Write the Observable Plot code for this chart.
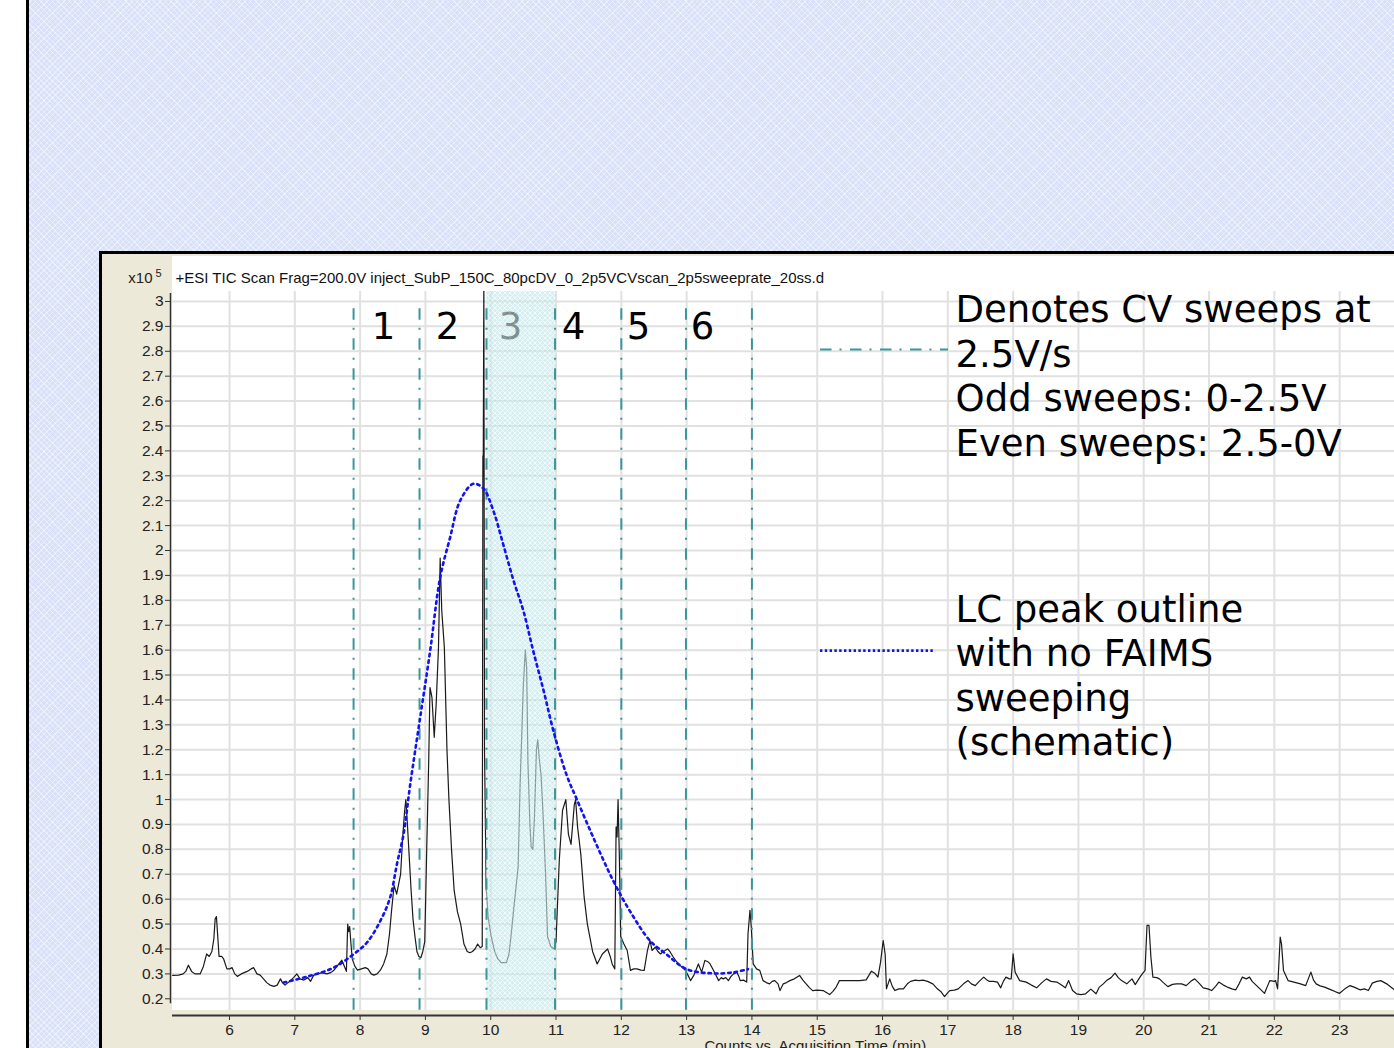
<!DOCTYPE html>
<html><head><meta charset="utf-8">
<script src="https://cdn.jsdelivr.net/npm/d3@7"></script>
<script src="https://cdn.jsdelivr.net/npm/@observablehq/plot@0.6"></script>
<style>
html,body{margin:0;padding:0;width:1394px;height:1048px;overflow:hidden;background:#fff;}
#bg{position:absolute;left:29px;top:0;right:0;bottom:0;background-color:#d9e1f8;
 background-image:repeating-linear-gradient(45deg,rgba(255,255,255,0.4) 0 1px,transparent 1px 4px),repeating-linear-gradient(-45deg,rgba(255,255,255,0.4) 0 1px,transparent 1px 4px);}
#edge{position:absolute;left:26px;top:0;width:3px;height:1048px;background:#000;}
#panel{position:absolute;left:99px;top:251px;width:1400px;height:900px;background:#ece9d8;border-left:3px solid #000;border-top:3px solid #000;box-sizing:border-box;}
#white{position:absolute;left:172px;top:256px;width:1300px;height:754px;background:#fff;}
#chart{position:absolute;left:100px;top:253px;}
</style></head>
<body>
<div id="bg"></div><div id="edge"></div><div id="panel"></div><div id="white"></div>
<div id="chart"></div>
<script>
// ---------- data ----------
const xTicks = [6,7,8,9,10,11,12,13,14,15,16,17,18,19,20,21,22,23];
const yTicks = [0.2,0.3,0.4,0.5,0.6,0.7,0.8,0.9,1,1.1,1.2,1.3,1.4,1.5,1.6,1.7,1.8,1.9,2,2.1,2.2,2.3,2.4,2.5,2.6,2.7,2.8,2.9,3];
const yTickLabels = ["0.2","0.3","0.4","0.5","0.6","0.7","0.8","0.9","1","1.1","1.2","1.3","1.4","1.5","1.6","1.7","1.8","1.9","2","2.1","2.2","2.3","2.4","2.5","2.6","2.7","2.8","2.9","3"];

// TIC trace (acquisition time, min ; counts x10^5)
const ticTime = [5.13,5.22,5.29,5.33,5.37,5.42,5.47,5.55,5.60,5.65,5.69,5.73,5.76,5.78,5.80,5.82,5.84,5.88,5.91,5.96,6.00,6.04,6.08,6.12,6.18,6.27,6.33,6.37,6.42,6.47,6.52,6.57,6.62,6.68,6.73,6.78,6.81,6.85,6.92,6.98,7.03,7.08,7.14,7.20,7.24,7.29,7.35,7.42,7.49,7.55,7.60,7.66,7.72,7.76,7.79,7.81,7.825,7.84,7.86,7.88,7.92,7.96,8.02,8.08,8.12,8.17,8.21,8.26,8.31,8.36,8.41,8.45,8.48,8.52,8.56,8.59,8.62,8.65,8.68,8.70,8.72,8.75,8.78,8.81,8.84,8.87,8.90,8.93,8.96,8.99,9.02,9.05,9.07,9.10,9.135,9.165,9.20,9.226,9.25,9.29,9.33,9.36,9.40,9.44,9.49,9.54,9.59,9.64,9.68,9.72,9.76,9.80,9.84,9.87,9.88,9.885,9.895,9.905,9.93,9.96,10.00,10.06,10.11,10.16,10.24,10.28,10.31,10.36,10.42,10.45,10.48,10.50,10.53,10.55,10.57,10.60,10.62,10.645,10.67,10.70,10.72,10.745,10.77,10.80,10.84,10.87,10.92,10.97,11.00,11.05,11.10,11.15,11.19,11.23,11.28,11.30,11.33,11.38,11.43,11.48,11.56,11.63,11.67,11.71,11.75,11.79,11.83,11.86,11.90,11.92,11.935,11.95,11.97,11.99,12.04,12.09,12.14,12.19,12.24,12.30,12.35,12.40,12.44,12.47,12.52,12.56,12.60,12.64,12.67,12.71,12.75,12.79,12.83,12.90,12.98,13.03,13.06,13.11,13.15,13.18,13.23,13.28,13.32,13.36,13.40,13.44,13.49,13.53,13.56,13.60,13.64,13.68,13.72,13.77,13.80,13.82,13.87,13.92,13.94,13.97,13.99,14.02,14.07,14.12,14.17,14.22,14.27,14.31,14.35,14.40,14.43,14.48,14.53,14.58,14.65,14.73,14.78,14.83,14.88,14.93,15.00,15.09,15.14,15.19,15.24,15.29,15.34,15.44,15.54,15.65,15.75,15.83,15.88,15.93,15.97,16.01,16.04,16.06,16.11,16.15,16.19,16.25,16.32,16.38,16.43,16.50,16.56,16.62,16.69,16.77,16.84,16.90,16.95,17.00,17.03,17.10,17.16,17.24,17.31,17.36,17.42,17.48,17.55,17.60,17.63,17.70,17.76,17.81,17.85,17.89,17.94,17.97,18.00,18.03,18.10,18.15,18.20,18.28,18.36,18.44,18.51,18.58,18.67,18.74,18.80,18.85,18.91,18.97,19.04,19.11,19.19,19.27,19.32,19.38,19.43,19.50,19.56,19.61,19.66,19.74,19.82,19.87,19.95,20.02,20.05,20.08,20.11,20.14,20.20,20.24,20.30,20.37,20.44,20.50,20.58,20.65,20.72,20.78,20.85,20.91,20.98,21.04,21.10,21.15,21.22,21.28,21.35,21.41,21.46,21.51,21.57,21.62,21.66,21.70,21.78,21.85,21.93,22.00,22.02,22.05,22.09,22.11,22.14,22.21,22.30,22.40,22.48,22.53,22.56,22.60,22.64,22.70,22.77,22.87,22.94,23.00,23.08,23.16,23.24,23.31,23.38,23.44,23.50,23.57,23.63,23.72,23.84];
const ticCounts = [0.294,0.295,0.30,0.31,0.335,0.31,0.30,0.30,0.33,0.38,0.37,0.39,0.44,0.52,0.53,0.45,0.37,0.37,0.36,0.32,0.32,0.325,0.30,0.29,0.30,0.31,0.32,0.325,0.30,0.295,0.28,0.265,0.255,0.25,0.255,0.28,0.265,0.255,0.27,0.285,0.30,0.28,0.275,0.285,0.27,0.295,0.30,0.305,0.30,0.305,0.315,0.335,0.355,0.33,0.31,0.50,0.47,0.49,0.42,0.36,0.33,0.315,0.32,0.325,0.32,0.30,0.295,0.30,0.315,0.34,0.38,0.46,0.55,0.655,0.62,0.66,0.70,0.84,0.95,1.00,0.92,0.78,0.64,0.52,0.45,0.39,0.37,0.365,0.39,0.43,0.80,1.15,1.45,1.41,1.25,1.385,1.61,1.97,1.76,1.61,1.20,1.00,0.80,0.635,0.55,0.50,0.42,0.39,0.385,0.39,0.40,0.42,0.405,0.41,2.38,2.30,3.10,1.20,0.65,0.53,0.46,0.39,0.36,0.345,0.345,0.38,0.45,0.58,0.73,1.06,1.30,1.46,1.60,1.53,1.15,0.90,0.81,0.80,0.93,1.20,1.24,1.16,1.10,0.95,0.70,0.45,0.41,0.40,0.43,0.756,0.957,1.00,0.86,0.82,0.98,1.00,0.89,0.78,0.61,0.50,0.39,0.34,0.36,0.38,0.39,0.40,0.37,0.34,0.32,0.89,0.85,1.00,0.77,0.45,0.42,0.394,0.314,0.32,0.32,0.315,0.314,0.394,0.434,0.394,0.407,0.39,0.38,0.39,0.394,0.40,0.387,0.37,0.354,0.334,0.314,0.29,0.273,0.294,0.32,0.34,0.307,0.354,0.35,0.34,0.32,0.30,0.273,0.285,0.28,0.285,0.273,0.29,0.30,0.307,0.29,0.273,0.275,0.267,0.46,0.555,0.488,0.34,0.32,0.314,0.273,0.265,0.26,0.27,0.273,0.26,0.233,0.26,0.265,0.273,0.28,0.294,0.275,0.26,0.245,0.233,0.235,0.233,0.225,0.217,0.23,0.247,0.273,0.273,0.273,0.273,0.276,0.311,0.303,0.287,0.347,0.434,0.38,0.24,0.28,0.25,0.233,0.24,0.24,0.26,0.27,0.275,0.273,0.275,0.27,0.26,0.24,0.227,0.209,0.225,0.233,0.235,0.24,0.26,0.273,0.26,0.253,0.27,0.287,0.275,0.27,0.27,0.267,0.244,0.27,0.287,0.28,0.28,0.38,0.307,0.273,0.27,0.267,0.255,0.244,0.265,0.28,0.27,0.267,0.255,0.244,0.273,0.233,0.22,0.217,0.22,0.239,0.22,0.247,0.26,0.273,0.285,0.303,0.285,0.273,0.26,0.28,0.257,0.29,0.314,0.495,0.495,0.367,0.287,0.285,0.28,0.265,0.249,0.258,0.26,0.26,0.253,0.27,0.28,0.262,0.244,0.24,0.233,0.25,0.267,0.255,0.247,0.24,0.236,0.26,0.287,0.28,0.287,0.27,0.26,0.24,0.222,0.273,0.27,0.273,0.24,0.448,0.42,0.314,0.273,0.267,0.26,0.253,0.287,0.307,0.275,0.26,0.252,0.247,0.236,0.228,0.222,0.24,0.253,0.245,0.236,0.24,0.233,0.263,0.27,0.273,0.26,0.236];

// schematic LC peak outline (no FAIMS sweeping)
const lcTime = [6.83,7.2,7.595,7.90,8.105,8.31,8.46,8.564,8.665,8.768,8.92,9.073,9.226,9.379,9.532,9.735,9.89,10.04,10.19,10.35,10.50,10.65,10.81,10.96,11.16,11.32,11.57,11.876,12.13,12.44,12.69,13.0,13.405,13.71,13.94];
const lcCounts = [0.265,0.29,0.325,0.379,0.426,0.513,0.607,0.741,0.861,1.062,1.33,1.598,1.892,2.053,2.20,2.268,2.248,2.16,2.026,1.879,1.758,1.598,1.437,1.276,1.10,1.0,0.848,0.674,0.553,0.433,0.379,0.319,0.302,0.306,0.319];

// CV sweep boundaries and labels
const sweepBounds = [7.90,8.91,9.935,10.985,12.0,12.99,14.0];
const sweepLabels = ["1","2","3","4","5","6"];
const sweepLabelTime = [8.358,9.338,10.303,11.268,12.263,13.243];
const highlight = {start:9.935, end:11.0};

const titleText = "+ESI TIC Scan Frag=200.0V inject_SubP_150C_80pcDV_0_2p5VCVscan_2p5sweeprate_20ss.d";
const xLabel = "Counts vs. Acquisition Time (min)";
const note1 = ["Denotes CV sweeps at","2.5V/s","Odd sweeps: 0-2.5V","Even sweeps: 2.5-0V"];
const note2 = ["LC peak outline","with no FAIMS","sweeping","(schematic)"];

// ---------- build ----------
const tic = ticTime.map((t,i)=>({t, v:ticCounts[i]}));
const lc = lcTime.map((t,i)=>({t, v:lcCounts[i]}));
const sweepText = sweepLabels.map((s,i)=>({s, t:sweepLabelTime[i]}));
const X0 = 5.127, X1 = 23.84, Y0 = 0.153, Y1 = 3.04;
const teal = "#3a9799";
const blue = "#1212f2";
const dashDot = "11.5,8,2,8.5";
const dots = "2.6,4";
const axisFont = "'Liberation Sans', Arial, sans-serif";
const bigFont = "'DejaVu Sans', Verdana, sans-serif";

const plot = Plot.plot({
  width:1294, height:810, marginLeft:72, marginRight:0, marginTop:38, marginBottom:53,
  style:{background:"transparent", fontFamily:axisFont, fontSize:"15px", color:"#222", overflow:"visible"},
  x:{domain:[X0,X1]},
  y:{domain:[Y0,Y1]},
  marks:[
    Plot.gridX(xTicks,{stroke:"#e1e1e1", strokeOpacity:1, strokeWidth:2}),
    Plot.gridY(yTicks,{stroke:"#e1e1e1", strokeOpacity:1, strokeWidth:2}),
    Plot.ruleX([X0],{y1:3.032, y2:0.18, dx:-2, stroke:"#333", strokeWidth:1.5}),
    Plot.ruleY([Y0],{dy:5, stroke:"#333", strokeWidth:2}),
    Plot.axisY({ticks:yTicks, tickFormat:(d)=>yTickLabels[yTicks.indexOf(d)], tickSize:5, tickPadding:2, dx:-2, label:null, fontSize:15.5, fill:"#222", stroke:"#333"}),
    Plot.axisX({ticks:xTicks, tickSize:5, tickPadding:3, dy:5, label:null, fontSize:15.5, fill:"#222", stroke:"#333"}),
    Plot.line(tic,{x:"t", y:"v", stroke:"#1a1a1a", strokeWidth:1.2, clip:true}),
    Plot.text(sweepText,{x:"t", y:2.897, text:"s", fontSize:37, fontFamily:bigFont, fill:"#000", textAnchor:"middle"}),
    Plot.rect([highlight],{x1:"start", x2:"end", y1:Y0, y2:Y1, fill:"url(#hatch)", fillOpacity:0.62}),
    Plot.ruleX(sweepBounds,{y1:2.971, y2:Y0, stroke:teal, strokeWidth:2, strokeDasharray:dashDot}),
    Plot.line(lc,{x:"t", y:"v", curve:"catmull-rom", stroke:blue, strokeWidth:2.6, strokeDasharray:dots}),
    Plot.ruleY([2.807],{x1:15.05, x2:17.01, stroke:teal, strokeWidth:2, strokeDasharray:dashDot}),
    Plot.ruleY([1.598],{x1:15.05, x2:16.81, stroke:blue, strokeWidth:2.6, strokeDasharray:"2.4,2.4"}),
    Plot.text([note1.join("\n")],{x:17.118, y:3.043, text:(d)=>d, textAnchor:"start", lineAnchor:"top", lineHeight:1.203, fontSize:37, fontFamily:bigFont, fill:"#000"}),
    Plot.text([note2.join("\n")],{x:17.118, y:1.840, text:(d)=>d, textAnchor:"start", lineAnchor:"top", lineHeight:1.203, fontSize:37, fontFamily:bigFont, fill:"#000"}),
    Plot.text([titleText],{frameAnchor:"top-left", dx:3, dy:-9, text:(d)=>d, textAnchor:"start", lineAnchor:"bottom", fontSize:15, fill:"#111"}),
    Plot.text(["x10"],{frameAnchor:"top-left", dx:-20, dy:-9, text:(d)=>d, textAnchor:"end", lineAnchor:"bottom", fontSize:15, fill:"#222"}),
    Plot.text(["5"],{frameAnchor:"top-left", dx:-17, dy:-15, text:(d)=>d, textAnchor:"start", lineAnchor:"bottom", fontSize:11, fill:"#222"}),
    Plot.text([xLabel],{frameAnchor:"bottom", x:14.97, dy:40, text:(d)=>d, textAnchor:"middle", lineAnchor:"bottom", fontSize:15, fill:"#222"})
  ]
});
// cross-hatch pattern used by the highlighted sweep band
const ns = "http://www.w3.org/2000/svg";
const defs = document.createElementNS(ns, "defs");
defs.innerHTML = '<pattern id="hatch" width="5" height="5" patternUnits="userSpaceOnUse">' +
  '<rect width="5" height="5" fill="#bfe5e6"/>' +
  '<path d="M0,0L5,5M5,0L0,5" stroke="#eefafa" stroke-width="0.9"/></pattern>';
plot.insertBefore(defs, plot.firstChild);
document.getElementById("chart").appendChild(plot);
</script>
</body></html>
